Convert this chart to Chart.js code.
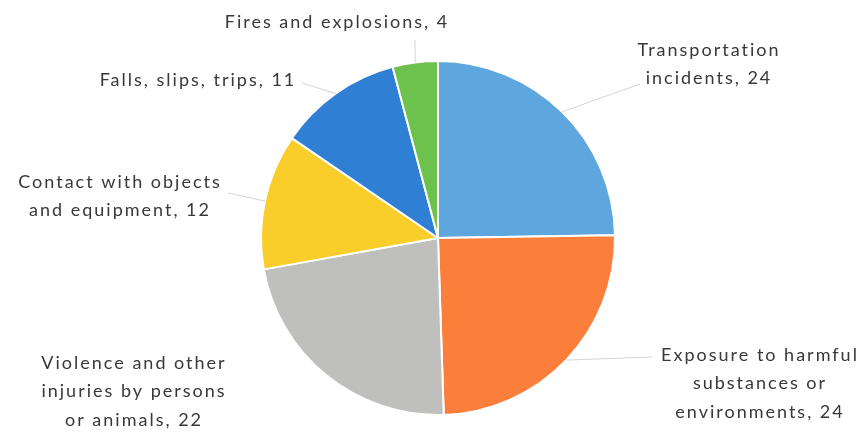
<!DOCTYPE html>
<html>
<head>
<meta charset="utf-8">
<script src="https://cdn.jsdelivr.net/npm/chart.js@4.4.1/dist/chart.umd.min.js"></script>
<style>
  html, body { margin: 0; padding: 0; background: #ffffff; }
  #wrap { width: 868px; height: 434px; }
</style>
</head>
<body>
<div id="wrap"><canvas id="pieChart" width="868" height="434"></canvas></div>
<script>
// Data
const categories = [
  "Transportation incidents",
  "Exposure to harmful substances or environments",
  "Violence and other injuries by persons or animals",
  "Contact with objects and equipment",
  "Falls, slips, trips",
  "Fires and explosions",
];
const values = [24, 24, 22, 12, 11, 4];

// Label text as it wraps in the picture
const labelLines = [
  ["Transportation", "incidents, 24"],
  ["Exposure to harmful", "substances or", "environments, 24"],
  ["Violence and other", "injuries by persons", "or animals, 22"],
  ["Contact with objects", "and equipment, 12"],
  ["Falls, slips, trips, 11"],
  ["Fires and explosions, 4"],
];

const colors = ["#5ea6de", "#fb7e3a", "#bfbfbd", "#f9cd2a", "#2f80d4", "#6cc24c"];

// where each label sits (text centre, first line) and where its leader line ends
const labelLayout = [
  { x: 709, y: 50, lineTo: [640, 84] },
  { x: 760, y: 355, lineTo: [652, 357] },
  { x: 134, y: 363, lineTo: null },
  { x: 120, y: 182, lineTo: [228, 193] },
  { x: 198, y: 80, lineTo: [302, 83] },
  { x: 337, y: 22, lineTo: [415, 40] },
];

const outsideLabels = {
  id: "outsideLabels",
  afterDatasetsDraw(chart) {
    const ctx = chart.ctx;
    const arcs = chart.getDatasetMeta(0).data;
    ctx.save();
    // leader lines
    ctx.strokeStyle = "#d4d4d4";
    ctx.lineWidth = 1;
    arcs.forEach(function (arc, i) {
      const end = labelLayout[i].lineTo;
      if (!end) return;
      const mid = (arc.startAngle + arc.endAngle) / 2;
      const sx = arc.x + Math.cos(mid) * arc.outerRadius;
      const sy = arc.y + Math.sin(mid) * arc.outerRadius;
      ctx.beginPath();
      ctx.moveTo(sx, sy);
      ctx.lineTo(end[0], end[1]);
      ctx.stroke();
    });
    // text
    ctx.fillStyle = "#383838";
    ctx.font = "18px Lato, 'Open Sans', sans-serif";
    if ("letterSpacing" in ctx) ctx.letterSpacing = "2px";
    ctx.textAlign = "center";
    ctx.textBaseline = "middle";
    labelLines.forEach(function (lines, i) {
      const pos = labelLayout[i];
      lines.forEach(function (line, j) {
        ctx.fillText(line, pos.x, pos.y + j * 28.5);
      });
    });
    ctx.restore();
  },
};

new Chart(document.getElementById("pieChart"), {
  type: "pie",
  data: {
    labels: categories,
    datasets: [
      {
        data: values,
        backgroundColor: colors,
        borderColor: "#ffffff",
        borderWidth: 2,
      },
    ],
  },
  options: {
    responsive: false,
    animation: false,
    layout: { padding: { top: 60, bottom: 18, left: 8, right: 0 } },
    plugins: {
      legend: { display: false },
      tooltip: { enabled: false },
    },
  },
  plugins: [outsideLabels],
});
</script>
</body>
</html>
